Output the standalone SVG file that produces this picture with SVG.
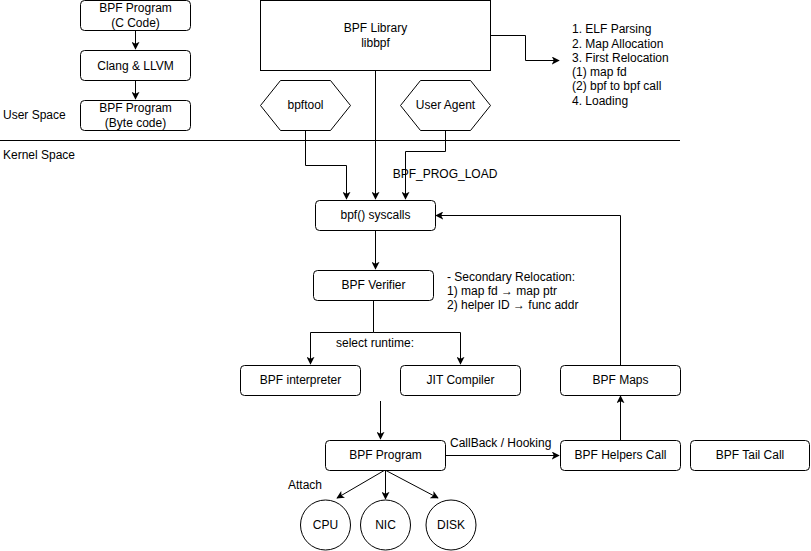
<svg xmlns="http://www.w3.org/2000/svg" width="811" height="551" viewBox="0 0 811 551">
<style>
text{font-family:"Liberation Sans",Arial,sans-serif;font-size:12px;fill:#000}
.c{text-anchor:middle}
.n{fill:#fff;stroke:#000;stroke-width:1}
.e{fill:none;stroke:#000;stroke-width:1}
</style>
<defs>
<marker id="a" viewBox="0 0 10 10" refX="9" refY="5" markerWidth="8" markerHeight="8" markerUnits="userSpaceOnUse" orient="auto">
<path d="M0,0 L10,5 L0,10 L2.5,5 Z" fill="#000"/>
</marker>
</defs>
<rect width="811" height="551" fill="#fff"/>
<line x1="0" y1="140.5" x2="680" y2="140.5" stroke="#000"/>
<text x="3" y="119">User Space</text>
<text x="3" y="159">Kernel Space</text>
<g id="connectors">
<path class="e" d="M135.5,30 V49" marker-end="url(#a)"/>
<path class="e" d="M135.5,80 V99" marker-end="url(#a)"/>
<path class="e" d="M490,35.5 H525.5 V60.5 H559" marker-end="url(#a)"/>
<path class="e" d="M305.5,130 V165.5 H346.5 V199" marker-end="url(#a)"/>
<path class="e" d="M375.5,70 V199" marker-end="url(#a)"/>
<path class="e" d="M445.5,130 V151.5 H405.5 V199" marker-end="url(#a)"/>
<path class="e" d="M375.5,230 V269" marker-end="url(#a)"/>
<path class="e" d="M373.5,300 V332.5 H310.5 V364" marker-end="url(#a)"/>
<path class="e" d="M373.5,332.5 H460.5 V364" marker-end="url(#a)"/>
<path class="e" d="M620.5,365 V215.5 H436" marker-end="url(#a)"/>
<path class="e" d="M620.5,440 V396" marker-end="url(#a)"/>
<path class="e" d="M380.5,401 V439" marker-end="url(#a)"/>
<path class="e" d="M445,455.5 H559" marker-end="url(#a)"/>
<path class="e" d="M385,470 L337,498" marker-end="url(#a)"/>
<path class="e" d="M385.5,470 V499" marker-end="url(#a)"/>
<path class="e" d="M385,470 L438,498" marker-end="url(#a)"/>
<text class="c" x="445" y="178">BPF_PROG_LOAD</text>
<text class="c" x="375" y="347">select runtime:</text>
<text x="450" y="447">CallBack / Hooking</text>
<text class="c" x="305" y="489">Attach</text>
</g>
<g id="bpf-c"><rect class="n" x="80.5" y="0.5" width="110" height="30" rx="4"/><text class="c" x="135.5" y="12">BPF Program</text><text class="c" x="135.5" y="27">(C Code)</text></g>
<g id="clang"><rect class="n" x="80.5" y="50.5" width="110" height="30" rx="4"/><text class="c" x="135.5" y="70">Clang &amp; LLVM</text></g>
<g id="bpf-byte"><rect class="n" x="80.5" y="100.5" width="110" height="30" rx="4"/><text class="c" x="135.5" y="112">BPF Program</text><text class="c" x="135.5" y="127">(Byte code)</text></g>
<g id="libbpf"><rect class="n" x="260.5" y="0.5" width="230" height="70"/><text class="c" x="375.5" y="32">BPF Library</text><text class="c" x="375.5" y="47">libbpf</text></g>
<g id="loader-notes"><text x="572" y="33">1. ELF Parsing</text><text x="572" y="47.5">2. Map Allocation</text><text x="572" y="61.5">3. First Relocation</text><text x="572" y="76">(1) map fd</text><text x="572" y="90">(2) bpf to bpf call</text><text x="572" y="104.5">4. Loading</text></g>
<g id="bpftool"><polygon class="n" points="260.5,105.5 280.5,80.5 330.5,80.5 350.5,105.5 330.5,130.5 280.5,130.5"/><text class="c" x="305.5" y="109">bpftool</text></g>
<g id="user-agent"><polygon class="n" points="400.5,105.5 420.5,80.5 470.5,80.5 490.5,105.5 470.5,130.5 420.5,130.5"/><text class="c" x="445.5" y="109">User Agent</text></g>
<g id="syscalls"><rect class="n" x="315.5" y="200.5" width="120" height="30" rx="4"/><text class="c" x="375.5" y="219">bpf() syscalls</text></g>
<g id="verifier"><rect class="n" x="313.5" y="270.5" width="120" height="30" rx="4"/><text class="c" x="373.5" y="289">BPF Verifier</text></g>
<g id="reloc-notes"><text x="447" y="281">- Secondary Relocation:</text><text x="447" y="295">1) map fd → map ptr</text><text x="447" y="309">2) helper ID → func addr</text></g>
<g id="interpreter"><rect class="n" x="240.5" y="365.5" width="120" height="30" rx="4"/><text class="c" x="300.5" y="384">BPF interpreter</text></g>
<g id="jit"><rect class="n" x="400.5" y="365.5" width="120" height="30" rx="4"/><text class="c" x="460.5" y="384">JIT Compiler</text></g>
<g id="maps"><rect class="n" x="560.5" y="365.5" width="120" height="30" rx="4"/><text class="c" x="620.5" y="384">BPF Maps</text></g>
<g id="bpf-program"><rect class="n" x="325.5" y="440.5" width="120" height="30" rx="4"/><text class="c" x="385.5" y="459">BPF Program</text></g>
<g id="helpers"><rect class="n" x="560.5" y="440.5" width="120" height="30" rx="4"/><text class="c" x="620.5" y="459">BPF Helpers Call</text></g>
<g id="tail"><rect class="n" x="690.5" y="440.5" width="119" height="30" rx="4"/><text class="c" x="750" y="459">BPF Tail Call</text></g>
<g id="cpu"><circle class="n" cx="325.5" cy="525" r="25"/><text class="c" x="325.5" y="529">CPU</text></g>
<g id="nic"><circle class="n" cx="385.5" cy="525" r="25"/><text class="c" x="385.5" y="529">NIC</text></g>
<g id="disk"><circle class="n" cx="451" cy="525" r="25"/><text class="c" x="451" y="529">DISK</text></g>
</svg>
